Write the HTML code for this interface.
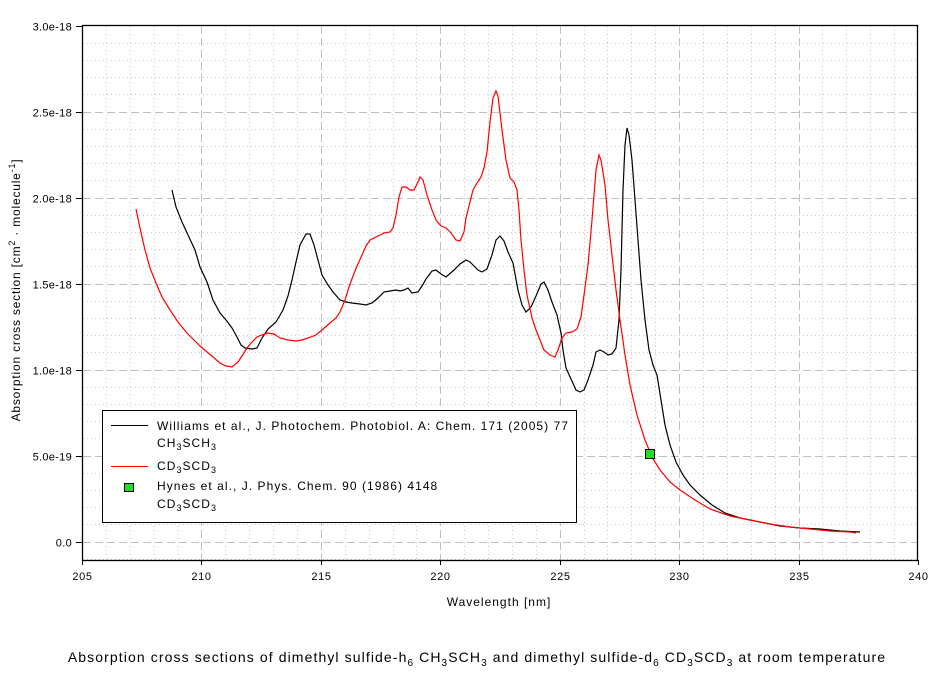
<!DOCTYPE html>
<html><head><meta charset="utf-8"><style>
html,body{margin:0;padding:0;background:#fff;}
svg{display:block;font-family:"Liberation Sans",Arial,sans-serif;}
</style></head><body>
<svg id="s" width="942" height="674" viewBox="0 0 942 674" xmlns="http://www.w3.org/2000/svg">
<g id="grid"></g>
<polyline fill="none" stroke="#000" stroke-width="1.2" points="172,190 176,207 182,222 188,235 195,250 200,267 207,282 213,300 220,313 226,320 232,328 237,337 241,345 245,348 252,349 257,348 262,338 268,329 276,322 283,310 288,296 292,280 296,262 300,245 306,234 310,234 314,245 318,260 322,275 328,285 333,292 340,300 346,302 352,303 360,304 366,305 372,303 378,298 384,292 390,291 396,290 400,291 404,290 408,288 412,293 418,292 422,286 426,279 432,271 436,270 441,274 446,277 454,270 460,264 466,260 470,262 474,266 478,270 482,272 487,269 492,255 496,240 500,236 504,241 508,252 513,263 518,290 522,305 526,312 531,307 536,296 541,284 544,282 548,290 552,302 557,315 561,333 563,350 566,368 571,379 576,390 580,392 584,390 588,380 593,365 596,352 600,350 604,352 608,355 612,354 616,348 619,320 621,270 623,190 625,145 627,128 629,135 632,160 635,200 638,240 641,280 645,320 649,350 653,365 657,375 661,400 665,425 670,445 676,462 683,475 690,485 700,495 712,505 725,513 740,518 760,522 780,526 800,528 820,529 840,531 860,532"/>
<polyline fill="none" stroke="#f00" stroke-width="1.2" points="136,209 140,228 145,250 150,268 156,283 162,297 170,310 178,322 186,332 194,340 200,346 207,352 213,357 220,363 226,366 232,367 238,362 242,356 247,348 252,342 257,337 262,335 268,333 274,334 280,338 288,340 296,341 302,340 308,338 316,335 322,330 330,323 336,318 340,312 345,300 349,287 353,276 357,266 362,255 366,246 370,240 376,237 384,233 390,232 393,228 396,215 399,197 402,187 406,187 410,190 414,190 418,182 420,177 423,180 427,195 432,210 436,220 441,226 446,228 451,233 456,240 460,241 464,232 466,218 470,202 473,190 477,183 481,177 484,168 487,152 490,122 493,98 496,91 498,96 502,130 506,160 510,178 514,182 517,190 519,210 521,240 524,270 527,295 532,318 536,330 540,340 544,350 550,355 555,357 558,350 562,338 566,333 572,332 577,329 581,317 584,295 588,265 592,220 596,170 599,155 601,160 605,185 608,220 612,255 616,290 620,320 625,355 630,385 637,415 645,440 652,457 660,470 670,482 680,490 695,500 710,509 730,516 750,520 770,524 790,527 810,529 830,531 850,532 856,533"/>
<rect x="645.5" y="449.5" width="9" height="9" fill="#22dd22" stroke="#000" stroke-width="1"/>
<rect x="82.5" y="25.5" width="835" height="535" fill="none" stroke="#000" stroke-width="1.3"/>
<g id="ticks"></g>
<g font-size="12" fill="#000" letter-spacing="1">
<text x="499" y="606" text-anchor="middle">Wavelength [nm]</text>
<text transform="translate(20,290) rotate(-90)" text-anchor="middle" letter-spacing="0.8">Absorption cross section [cm<tspan dy="-5" font-size="9">2</tspan><tspan dy="5"> · molecule</tspan><tspan dy="-5" font-size="9">-1</tspan><tspan dy="5">]</tspan></text>
</g>
<rect x="102.5" y="410.5" width="474" height="112" fill="#fff" stroke="#000" stroke-width="1"/>
<g font-size="12" fill="#000" letter-spacing="1.05">
<line x1="111" y1="425.5" x2="148" y2="425.5" stroke="#000"/>
<text x="157" y="430">Williams et al., J. Photochem. Photobiol. A: Chem. 171 (2005) 77</text>
<text x="157" y="447">CH<tspan dy="3" font-size="9">3</tspan><tspan dy="-3">SCH</tspan><tspan dy="3" font-size="9">3</tspan></text>
<line x1="111" y1="466.5" x2="148" y2="466.5" stroke="#f00"/>
<text x="157" y="470">CD<tspan dy="3" font-size="9">3</tspan><tspan dy="-3">SCD</tspan><tspan dy="3" font-size="9">3</tspan></text>
<rect x="124.5" y="483.5" width="9" height="8" fill="#22dd22" stroke="#000"/>
<text x="157" y="490">Hynes et al., J. Phys. Chem. 90 (1986) 4148</text>
<text x="157" y="508">CD<tspan dy="3" font-size="9">3</tspan><tspan dy="-3">SCD</tspan><tspan dy="3" font-size="9">3</tspan></text>
</g>
<text x="477" y="662" text-anchor="middle" font-size="14" letter-spacing="1.1">Absorption cross sections of dimethyl sulfide-h<tspan dy="4" font-size="10">6</tspan><tspan dy="-4"> CH</tspan><tspan dy="4" font-size="10">3</tspan><tspan dy="-4">SCH</tspan><tspan dy="4" font-size="10">3</tspan><tspan dy="-4"> and dimethyl sulfide-d</tspan><tspan dy="4" font-size="10">6</tspan><tspan dy="-4"> CD</tspan><tspan dy="4" font-size="10">3</tspan><tspan dy="-4">SCD</tspan><tspan dy="4" font-size="10">3</tspan><tspan dy="-4"> at room temperature</tspan></text>
</svg>
<script>
var NS="http://www.w3.org/2000/svg",g=document.getElementById("grid"),t=document.getElementById("ticks");
function el(p,tag,a,txt){var e=document.createElementNS(NS,tag);for(var k in a)e.setAttribute(k,a[k]);if(txt)e.textContent=txt;p.appendChild(e);return e;}
function X(v){return 82+(v-205)*836/35;}
function Y(v){return 541.5-v*172;}
for(var w=206;w<240;w++){var x=Math.round(X(w))+0.5,maj=(w%5==0);
 el(g,"line",{x1:x,y1:26,x2:x,y2:560,stroke:maj?"#c0c0c0":"#c8c8c8","stroke-width":1,"stroke-dasharray":maj?"8,4":"1,3"});}
for(var i=-1;i<30;i++){var v=i/10,y=Math.round(Y(v))+0.5,maj=(i%5==0);
 el(g,"line",{x1:83,y1:y,x2:917,y2:y,stroke:maj?"#c0c0c0":"#c8c8c8","stroke-width":1,"stroke-dasharray":maj?"8,4":"1,3"});}
for(var w=205;w<=240;w+=5){var x=Math.round(X(w))+0.5;
 el(t,"line",{x1:x,y1:560,x2:x,y2:565,stroke:"#000"});
 el(t,"text",{x:x,y:580,"text-anchor":"middle","font-size":"11","letter-spacing":"0.6"},String(w));}
var labs=["0.0","5.0e-19","1.0e-18","1.5e-18","2.0e-18","2.5e-18","3.0e-18"];
for(var i=0;i<=6;i++){var y=Math.round(Y(i*0.5))+0.5;
 el(t,"line",{x1:76,y1:y,x2:82,y2:y,stroke:"#000"});
 el(t,"text",{x:72,y:y+4,"text-anchor":"end","font-size":"11","letter-spacing":"0.3"},labs[i]);}
</script>
</body></html>
